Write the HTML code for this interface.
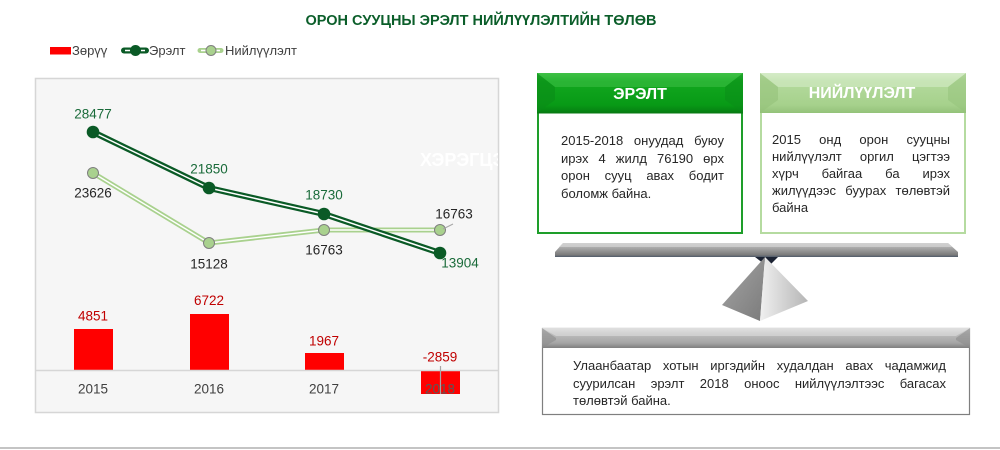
<!DOCTYPE html>
<html>
<head>
<meta charset="utf-8">
<style>
  html,body{margin:0;padding:0;background:#fff;}
  body{width:1000px;height:450px;position:relative;overflow:hidden;font-family:"Liberation Sans","DejaVu Sans",sans-serif;}
  .t{position:absolute;color:#262626;font-size:13px;line-height:17.5px;}
  .t div{white-space:nowrap;text-align:justify;text-align-last:justify;}
  .t div.l{text-align:left;text-align-last:left;}
</style>
</head>
<body>
<svg width="1000" height="450" viewBox="0 0 1000 450" style="position:absolute;left:0;top:0">
  <defs>
    <linearGradient id="gHead1" x1="0" y1="0" x2="0" y2="1">
      <stop offset="0" stop-color="#3cc043"/>
      <stop offset="0.2" stop-color="#12a81f"/>
      <stop offset="0.8" stop-color="#089a16"/>
      <stop offset="1" stop-color="#067d12"/>
    </linearGradient>
    <linearGradient id="gHead2" x1="0" y1="0" x2="0" y2="1">
      <stop offset="0" stop-color="#cfe8bf"/>
      <stop offset="0.2" stop-color="#b4da9d"/>
      <stop offset="0.8" stop-color="#a6d18c"/>
      <stop offset="1" stop-color="#93c279"/>
    </linearGradient>
    <linearGradient id="gHead3" x1="0" y1="0" x2="0" y2="1">
      <stop offset="0" stop-color="#d9d9d9"/>
      <stop offset="0.3" stop-color="#bcbcbc"/>
      <stop offset="0.75" stop-color="#a5a5a5"/>
      <stop offset="1" stop-color="#7f7f7f"/>
    </linearGradient>
    <linearGradient id="gPlank" x1="0" y1="0" x2="0" y2="1">
      <stop offset="0" stop-color="#c8c8c8"/>
      <stop offset="0.5" stop-color="#9a9a9a"/>
      <stop offset="0.85" stop-color="#7a7a7a"/>
      <stop offset="1" stop-color="#4f5a6a"/>
    </linearGradient>
    <linearGradient id="gPyrL" x1="0" y1="0" x2="1" y2="1">
      <stop offset="0" stop-color="#a5a5a5"/>
      <stop offset="1" stop-color="#7b7b7b"/>
    </linearGradient>
    <linearGradient id="gPyrR" x1="0" y1="0" x2="1" y2="0">
      <stop offset="0" stop-color="#f0f0f0"/>
      <stop offset="1" stop-color="#b5b5b5"/>
    </linearGradient>
    <clipPath id="plotClip"><rect x="36" y="79" width="462" height="333"/></clipPath>
  </defs>

  <!-- Title -->
  <text x="481" y="25" text-anchor="middle" font-family="Liberation Sans, sans-serif" font-weight="bold" font-size="14.5" fill="#0b5e2a">ОРОН СУУЦНЫ ЭРЭЛТ НИЙЛҮҮЛЭЛТИЙН ТӨЛӨВ</text>

  <!-- Legend -->
  <rect x="50" y="47" width="21" height="7.5" fill="#ff0000"/>
  <text x="72" y="55" font-family="Liberation Sans, sans-serif" font-size="13" fill="#404040">Зөрүү</text>
  <line x1="124" y1="50.5" x2="146" y2="50.5" stroke="#0a5a26" stroke-width="6" stroke-linecap="round"/>
  <line x1="125" y1="50.5" x2="145" y2="50.5" stroke="#ffffff" stroke-width="1.5"/>
  <circle cx="135.5" cy="50.5" r="5.5" fill="#0a5a26"/>
  <text x="149" y="55" font-family="Liberation Sans, sans-serif" font-size="13" fill="#404040">Эрэлт</text>
  <line x1="200" y1="50.5" x2="221" y2="50.5" stroke="#a9d18e" stroke-width="5" stroke-linecap="round"/>
  <line x1="201" y1="50.5" x2="220" y2="50.5" stroke="#ffffff" stroke-width="1.5"/>
  <circle cx="211" cy="50.5" r="5" fill="#a9d18e" stroke="#7f7f7f" stroke-width="1"/>
  <text x="225" y="55" font-family="Liberation Sans, sans-serif" font-size="13" fill="#404040">Нийлүүлэлт</text>

  <!-- Plot area -->
  <rect x="35.5" y="78.5" width="463" height="334" fill="#f6f6f6" stroke="#d6d6d6" stroke-width="1.5"/>
  <g clip-path="url(#plotClip)">
    <text x="420" y="166" font-family="Liberation Sans, sans-serif" font-weight="bold" font-size="18" fill="#ffffff">ХЭРЭГЦЭЭ</text>
  </g>

  <!-- Bars -->
  <rect x="74" y="329" width="39" height="41" fill="#ff0000"/>
  <rect x="190" y="314" width="39" height="56" fill="#ff0000"/>
  <rect x="305" y="353" width="39" height="17" fill="#ff0000"/>
  <rect x="421" y="370" width="39" height="24" fill="#ff0000"/>
  <line x1="36" y1="370.5" x2="498" y2="370.5" stroke="#d6d6d6" stroke-width="1.5"/>
  <line x1="440.5" y1="366" x2="440.5" y2="394" stroke="#a6a6a6" stroke-width="1.2"/>

  <g font-family="Liberation Sans, sans-serif" font-size="13.5" text-anchor="middle">
    <text x="93" y="320.5" fill="#c00000">4851</text>
    <text x="209" y="305" fill="#c00000">6722</text>
    <text x="324" y="345.5" fill="#c00000">1967</text>
    <text x="440" y="361.5" fill="#c00000">-2859</text>
    <text x="93" y="393.5" fill="#404040">2015</text>
    <text x="209" y="393.5" fill="#404040">2016</text>
    <text x="324" y="393.5" fill="#404040">2017</text>
    <text x="440" y="393.5" fill="#595959">2018</text>
  </g>

  <!-- Supply line -->
  <polyline points="93,173 209,243 324,230 440,230" fill="none" stroke="#a9d18e" stroke-width="5" stroke-linejoin="round"/>
  <polyline points="93,173 209,243 324,230 440,230" fill="none" stroke="#ffffff" stroke-width="1.4" stroke-linejoin="round"/>
  <!-- Demand line -->
  <polyline points="93,132 209,188 324,214 440,253" fill="none" stroke="#0a5a26" stroke-width="6" stroke-linejoin="round"/>
  <polyline points="93,132 209,188 324,214 440,253" fill="none" stroke="#ffffff" stroke-width="1.5" stroke-linejoin="round"/>
  <!-- Supply markers -->
  <g fill="#a9d18e" stroke="#7f7f7f" stroke-width="1">
    <circle cx="93" cy="173" r="5.5"/>
    <circle cx="209" cy="243" r="5.5"/>
    <circle cx="324" cy="230" r="5.5"/>
    <circle cx="440" cy="230" r="5.5"/>
  </g>
  <!-- Demand markers -->
  <g fill="#0a5a26">
    <circle cx="93" cy="132" r="6.3"/>
    <circle cx="209" cy="188" r="6.3"/>
    <circle cx="324" cy="214" r="6.3"/>
    <circle cx="440" cy="253" r="6.3"/>
  </g>
  <line x1="443" y1="229" x2="453" y2="224" stroke="#a6a6a6" stroke-width="1"/>

  <g font-family="Liberation Sans, sans-serif" font-size="13.5" text-anchor="middle">
    <text x="93" y="118.5" fill="#1a6b3a">28477</text>
    <text x="209" y="173.5" fill="#1a6b3a">21850</text>
    <text x="324" y="199.5" fill="#1a6b3a">18730</text>
    <text x="460" y="267.5" fill="#1a6b3a">13904</text>
    <text x="93" y="197.5" fill="#262626">23626</text>
    <text x="209" y="268.5" fill="#262626">15128</text>
    <text x="324" y="254.5" fill="#262626">16763</text>
    <text x="454" y="218.5" fill="#262626">16763</text>
  </g>

  <!-- Box 1 -->
  <rect x="538" y="74" width="204" height="159" fill="#ffffff" stroke="#1e9e2a" stroke-width="2"/>
  <rect x="537" y="73" width="206" height="40" fill="url(#gHead1)"/>
  <polygon points="537,73 555,87 555,100 537,113" fill="#0a8c17" opacity="0.6"/>
  <polygon points="743,73 725,87 725,100 743,113" fill="#0a8c17" opacity="0.5"/>
  <polygon points="537,73 743,73 725,87 555,87" fill="#42c24a" opacity="0.5"/>
  <rect x="537" y="112" width="206" height="2" fill="#0a7a14" opacity="0.5"/>
  <text x="640" y="99" text-anchor="middle" font-family="Liberation Sans, sans-serif" font-weight="bold" font-size="16" fill="#ffffff">ЭРЭЛТ</text>

  <!-- Box 2 -->
  <rect x="761" y="74" width="204" height="159" fill="#ffffff" stroke="#b5dba0" stroke-width="2"/>
  <rect x="760" y="73" width="206" height="40" fill="url(#gHead2)"/>
  <polygon points="760,73 778,87 778,100 760,113" fill="#94c17a" opacity="0.6"/>
  <polygon points="966,73 948,87 948,100 966,113" fill="#94c17a" opacity="0.5"/>
  <polygon points="760,73 966,73 948,87 778,87" fill="#dcefd0" opacity="0.5"/>
  <text x="862" y="98" text-anchor="middle" font-family="Liberation Sans, sans-serif" font-weight="bold" font-size="16" fill="#ffffff">НИЙЛҮҮЛЭЛТ</text>

  <!-- Seesaw -->
  <polygon points="755,257 778,257 768,267" fill="#1c2333"/>
  <polygon points="765,257 722,305 760,321" fill="url(#gPyrL)"/>
  <polygon points="765,257 760,321 808,301" fill="url(#gPyrR)"/>
  <polygon points="563,243 948,243 958,252 958,257 555,257 555,252" fill="url(#gPlank)"/>
  <polygon points="563,243 948,243 952,247 559,247" fill="#d5d5d5" opacity="0.7"/>

  <!-- Bottom box -->
  <rect x="542.5" y="328.5" width="427" height="86" fill="#ffffff" stroke="#7f7f7f" stroke-width="1.2"/>
  <rect x="542" y="328" width="428" height="20" fill="url(#gHead3)"/>
  <polygon points="542,328 556,338 556,340 542,348" fill="#8c8c8c" opacity="0.6"/>
  <polygon points="970,328 956,338 956,340 970,348" fill="#8c8c8c" opacity="0.6"/>
  <polygon points="542,328 970,328 956,336 556,336" fill="#e6e6e6" opacity="0.5"/>

  <!-- Bottom rule -->
  <rect x="0" y="447" width="1000" height="2" fill="#c4c4c4"/>
</svg>

<div class="t" style="left:561px;top:132px;width:163px;">
  <div>2015-2018 онуудад буюу</div>
  <div>ирэх 4 жилд 76190 өрх</div>
  <div>орон сууц авах бодит</div>
  <div class="l">боломж байна.</div>
</div>

<div class="t" style="left:772px;top:131px;width:178px;line-height:17px;">
  <div>2015 онд орон сууцны</div>
  <div>нийлүүлэлт оргил цэгтээ</div>
  <div>хүрч байгаа ба ирэх</div>
  <div>жилүүдээс буурах төлөвтэй</div>
  <div class="l">байна</div>
</div>

<div class="t" style="left:573px;top:357px;width:373px;">
  <div>Улаанбаатар хотын иргэдийн худалдан авах чадамжид</div>
  <div>суурилсан эрэлт 2018 оноос нийлүүлэлтээс багасах</div>
  <div class="l">төлөвтэй байна.</div>
</div>
</body>
</html>
